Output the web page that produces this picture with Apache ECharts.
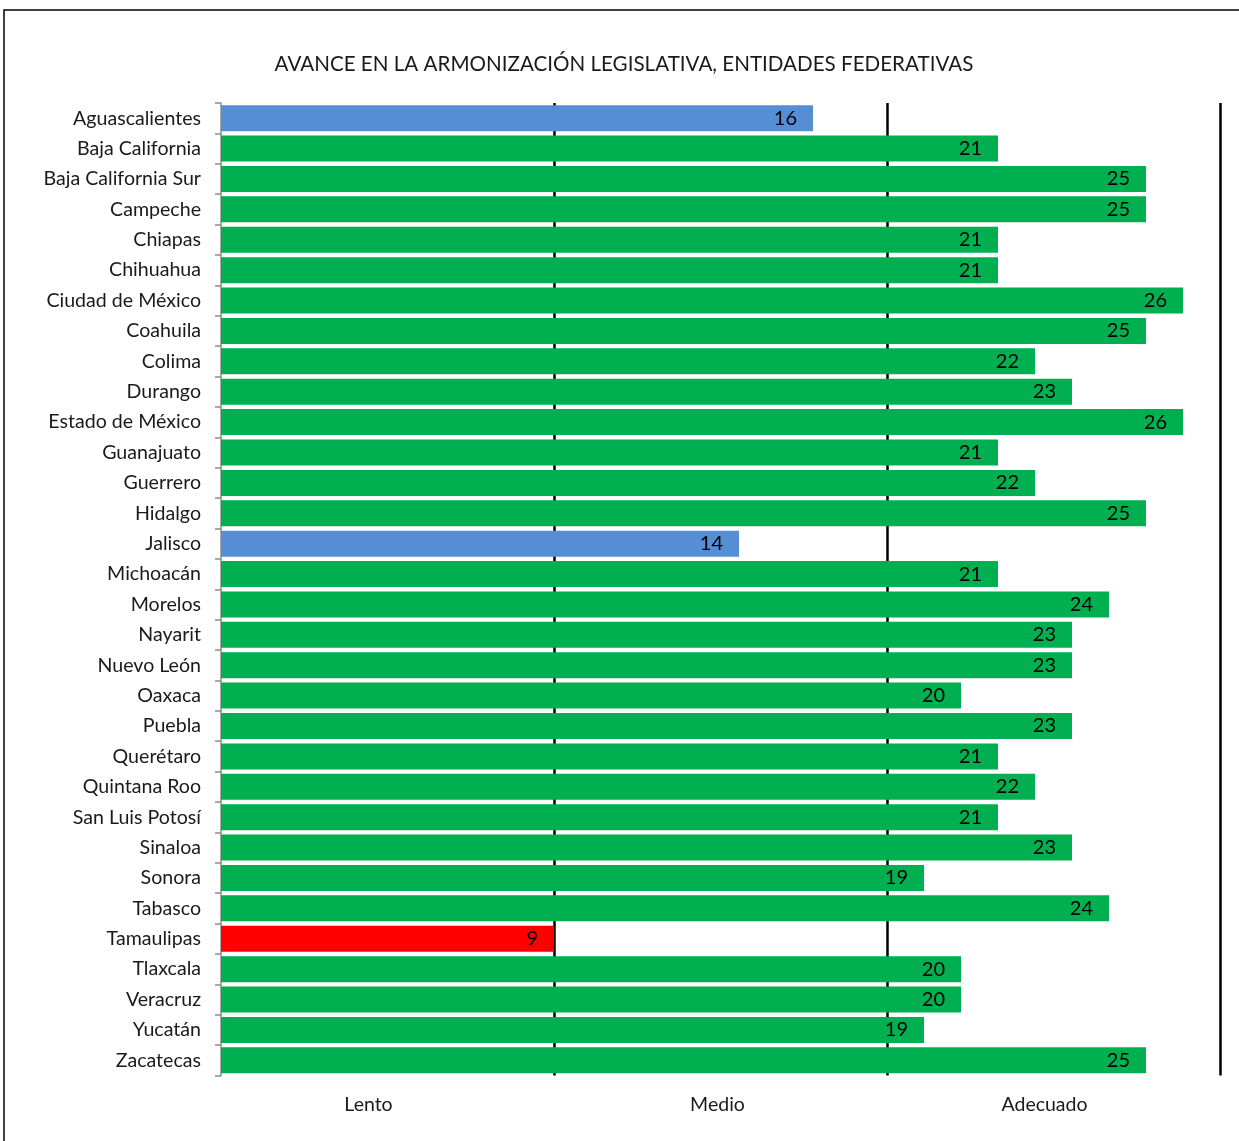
<!DOCTYPE html>
<html>
<head>
<meta charset="utf-8">
<script src="https://cdn.jsdelivr.net/npm/echarts@6/dist/echarts.min.js"></script>
<style>
  html, body { margin: 0; padding: 0; background: #fff; }
  #chart { width: 1239px; height: 1141px; }
</style>
</head>
<body>
<div id="chart"></div>
<script>
// entidades y puntaje de armonización
var estados = ['Aguascalientes', 'Baja California', 'Baja California Sur', 'Campeche', 'Chiapas',
    'Chihuahua', 'Ciudad de México', 'Coahuila', 'Colima', 'Durango', 'Estado de México',
    'Guanajuato', 'Guerrero', 'Hidalgo', 'Jalisco', 'Michoacán', 'Morelos', 'Nayarit',
    'Nuevo León', 'Oaxaca', 'Puebla', 'Querétaro', 'Quintana Roo', 'San Luis Potosí',
    'Sinaloa', 'Sonora', 'Tabasco', 'Tamaulipas', 'Tlaxcala', 'Veracruz', 'Yucatán', 'Zacatecas'];
var puntajes = [16, 21, 25, 25, 21, 21, 26, 25, 22, 23, 26, 21, 22, 25, 14, 21, 24, 23,
    23, 20, 23, 21, 22, 21, 23, 19, 24, 9, 20, 20, 19, 25];
var niveles = ['Lento', 'Medio', 'Adecuado'];
var limites = [9, 18, 27];//corte de cada nivel
var coloresNivel = ['#ff0000', '#558ed5', '#00b050'];

var fuente = 'Lato';

function colorPorPuntaje(v) {
    for (var i = 0; i < limites.length; i++) {
        if (v <= limites[i]) return coloresNivel[i];
    }
    return coloresNivel[coloresNivel.length - 1];
}

var myChart = echarts.init(document.getElementById('chart'));
var option = {
    animation: false,
    backgroundColor: '#fff',
    textStyle: { fontFamily: fuente },
    title: {
        text: 'AVANCE EN LA ARMONIZACIÓN LEGISLATIVA, ENTIDADES FEDERATIVAS',
        left: 619,
        textAlign: 'center',
        top: 49,
        textStyle: { fontFamily: fuente, fontSize: 20.6, fontWeight: 'normal', color: '#1a1a1a' }
    },
    graphic: [{
        type: 'rect',
        shape: { x: 4, y: 10, width: 1400, height: 1400 },
        style: { fill: 'none', stroke: '#000', lineWidth: 1.5 },
        silent: true
    }],
    grid: { left: 221, right: 19, top: 103, bottom: 65.5 },
    xAxis: [{
        type: 'value',
        min: 0,
        max: limites[limites.length - 1],
        interval: 9,
        axisLine: { show: false },
        axisTick: { show: false },
        axisLabel: { show: false },
        splitLine: {
            show: true,
            lineStyle: { color: ['transparent', '#000', '#000', '#000'], width: 2.5 }
        }
    }, {
        type: 'category',
        position: 'bottom',
        data: niveles,
        axisLine: { show: false },
        axisTick: { show: false },
        splitLine: { show: false },
        axisLabel: {
            margin: 19,
            fontSize: 19.5,
            color: '#1a1a1a',
            formatter: function (v) { return '{' + v + '|' + v + '}'; },
            rich: {
                Lento: { fontSize: 19.5, fontFamily: fuente, color: '#1a1a1a', padding: [0, 38, 0, 0] },
                Medio: { fontSize: 19.5, fontFamily: fuente, color: '#1a1a1a', padding: [0, 6, 0, 0] },
                Adecuado: { fontSize: 19.5, fontFamily: fuente, color: '#1a1a1a', padding: [0, 18, 0, 0] }
            }
        }
    }],
    yAxis: {
        type: 'category',
        inverse: true,
        data: estados,
        axisLine: { show: true, lineStyle: { color: '#8c8c8c', width: 1.5 } },
        axisTick: { show: true, length: 6, lineStyle: { color: '#8c8c8c', width: 1.5 } },
        axisLabel: { margin: 20, fontSize: 19.6, color: '#1a1a1a' },
        splitLine: { show: false }
    },
    series: [{
        type: 'bar',
        xAxisIndex: 0,
        barWidth: 26,
        data: puntajes.map(function (v) {
            return { value: v, itemStyle: { color: colorPorPuntaje(v) } };
        }),
        label: {
            show: true,
            position: 'insideRight',
            distance: 16,
            color: '#000',
            fontSize: 20,
            fontFamily: fuente
        }
    }]
};
myChart.setOption(option);
</script>
</body>
</html>
